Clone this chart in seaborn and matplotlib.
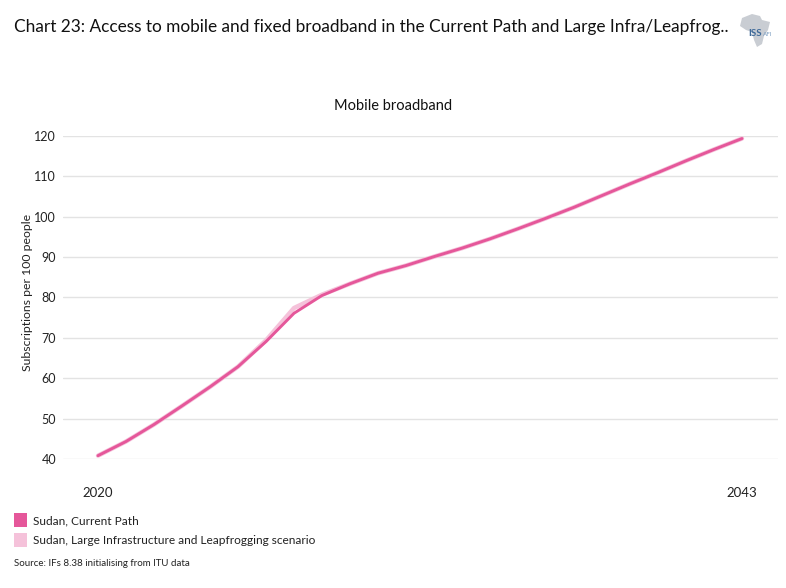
import matplotlib
matplotlib.use("Agg")
import matplotlib.pyplot as plt
import seaborn as sns
import pandas as pd
from matplotlib.patches import Rectangle, Polygon

years = list(range(2020, 2044))
current_path = [40.9, 44.4, 48.6, 53.2, 57.9, 62.9, 69.1, 76.1, 80.5, 83.4, 86.0,
                87.9, 90.1, 92.2, 94.5, 97.0, 99.6, 102.3, 105.2, 108.1, 110.9,
                113.8, 116.6, 119.3]
large_infra = [40.9, 44.4, 48.6, 53.2, 57.9, 62.9, 69.4, 77.4, 80.7, 83.4, 86.0,
               87.9, 90.1, 92.2, 94.5, 97.0, 99.6, 102.3, 105.2, 108.1, 110.9,
               113.8, 116.6, 119.3]
series_names = ["Sudan, Current Path",
                "Sudan, Large Infrastructure and Leapfrogging scenario"]
series_colors = ["#E5579A", "#F5C2DA"]
y_ticks = [40, 50, 60, 70, 80, 90, 100, 110, 120]
x_ticks = [2020, 2043]

df = pd.concat([
    pd.DataFrame({"year": years, "value": current_path, "series": series_names[0]}),
    pd.DataFrame({"year": years, "value": large_infra, "series": series_names[1]}),
])

sns.set_theme(style="white")
plt.rcParams["font.family"] = ["Lato", "DejaVu Sans"]

W, H = 786, 588
fig = plt.figure(figsize=(W / 100, H / 100), dpi=100)
left, right = 63 / W, 778 / W
bottom, top = 1 - 459.3 / H, 1 - 135.7 / H
ax = fig.add_axes([left, bottom, right - left, top - bottom])

palette = dict(zip(series_names, series_colors))
sns.lineplot(data=df, x="year", y="value", hue="series",
             hue_order=[series_names[1], series_names[0]],
             palette=palette, ax=ax, legend=False, linewidth=2.1)
for ln in ax.get_lines():
    ln.set_clip_on(False)
ax.get_lines()[0].set_linewidth(3.2)

x0 = 2020 - (98 - 63) / 28.0
x1 = 2043 + (778 - 742) / 28.0
ax.set_xlim(x0, x1)
ax.set_ylim(40, 120)
ax.set_yticks(y_ticks)
ax.set_xticks(x_ticks)
ax.set_xticklabels([str(v) for v in x_ticks])
ax.grid(axis="y", color="#E3E3E3", linewidth=1)
ax.grid(axis="x", visible=False)
for s in ax.spines.values():
    s.set_visible(False)
ax.tick_params(axis="y", length=0, pad=5, labelsize=9, labelcolor="#222222")
ax.tick_params(axis="x", length=0, pad=20, labelsize=9.5, labelcolor="#222222")
ax.set_xlabel("")
ax.set_ylabel("Subscriptions per 100 people", fontsize=8.8, color="#222222")
ax.yaxis.set_label_coords((33 - 63) / 715, (459.3 - 292) / 323.6)

fig.text(14 / W, 1 - 27 / H, "Chart 23: Access to mobile and fixed broadband in the Current Path and Large Infra/Leapfrog..",
         fontsize=12.4, color="#111111", va="center", ha="left")
fig.text(393 / W, 1 - 106 / H, "Mobile broadband", fontsize=10.5, color="#111111",
         va="center", ha="center")

# logo
africa = [(742, 18), (752, 14), (760, 16), (762, 20), (770, 22), (768, 30),
          (764, 36), (762, 44), (757, 47), (754, 40), (752, 32), (746, 30), (740, 26)]
fig.patches.append(Polygon([(px / W, 1 - py / H) for px, py in africa], closed=True,
                           transform=fig.transFigure, facecolor="#C9CDD3",
                           edgecolor="none"))
fig.text(748 / W, 1 - 34 / H, "ISS", fontsize=7, color="#3F6A99", fontweight="bold",
         va="center", ha="left")
fig.text(763 / W, 1 - 34 / H, "AFI", fontsize=4.5, color="#7A9CC0", va="center", ha="left")

# legend
for i, (name, col) in enumerate(zip(series_names, series_colors)):
    yc = 520 + i * 20
    fig.patches.append(Rectangle((14 / W, 1 - (yc + 7) / H), 13 / W, 14 / H,
                                 transform=fig.transFigure, facecolor=col,
                                 edgecolor="none"))
    fig.text(33 / W, 1 - (yc + 1) / H, name, fontsize=8.6, color="#222222",
             va="center", ha="left")

fig.text(14 / W, 1 - 564 / H, "Source: IFs 8.38 initialising from ITU data",
         fontsize=7, color="#222222", va="center", ha="left")

fig.savefig("out.png", dpi=100)
